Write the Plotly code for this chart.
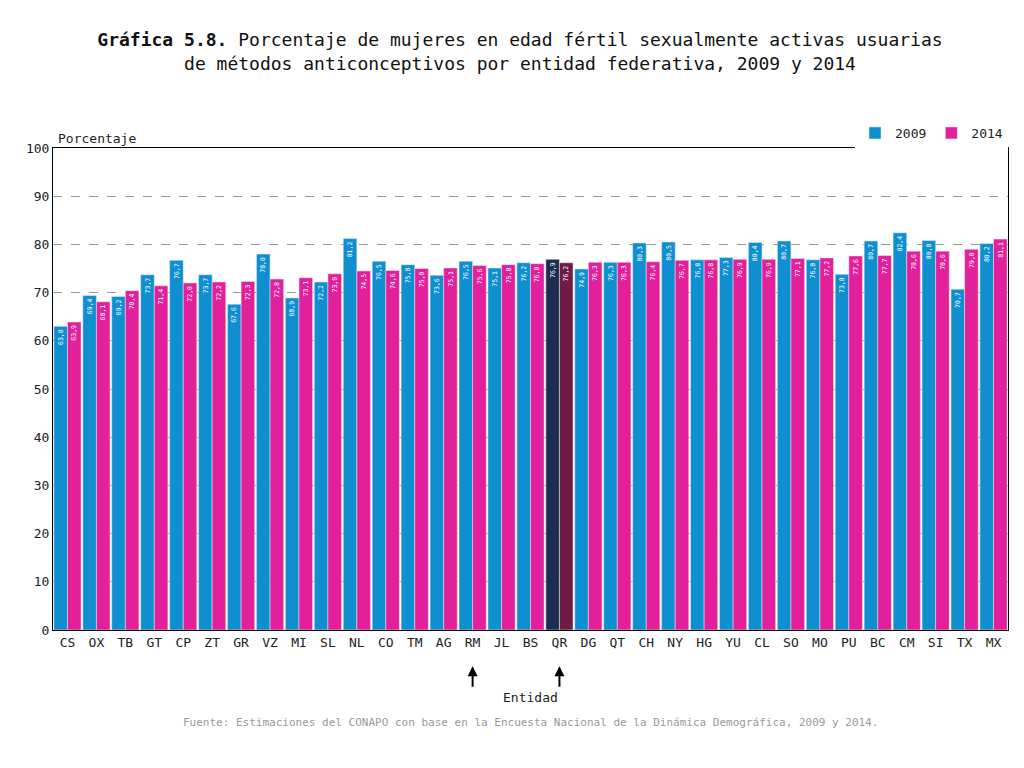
import plotly.graph_objects as go

entidades = ['CS','OX','TB','GT','CP','ZT','GR','VZ','MI','SL','NL','CO','TM','AG','RM','JL','BS',
             'QR','DG','QT','CH','NY','HG','YU','CL','SO','MO','PU','BC','CM','SI','TX','MX']
v2009 = [63.0,69.4,69.2,73.7,76.7,73.7,67.6,78.0,68.9,72.2,81.2,76.5,75.8,73.6,76.5,75.1,76.2,
         76.9,74.9,76.3,80.3,80.5,76.8,77.3,80.4,80.7,76.8,73.8,80.7,82.4,80.8,70.7,80.2]
v2014 = [63.9,68.1,70.4,71.4,72.0,72.2,72.3,72.8,73.1,73.9,74.5,74.6,75.0,75.1,75.6,75.8,76.0,
         76.2,76.3,76.3,76.4,76.7,76.8,76.9,76.9,77.1,77.2,77.6,77.7,78.6,78.6,79.0,81.1]
flechas = ['RM', 'QR']

FONT = "DejaVu Sans Mono"
c09 = ['#1b2d50' if e == 'QR' else '#0f8fd0' for e in entidades]
c14 = ['#6e1c45' if e == 'QR' else '#e3209b' for e in entidades]

def fmt(v):
    return f"{v:.1f}".replace('.', ',')

fig = go.Figure()
fig.add_trace(go.Bar(x=entidades, y=v2009, name='2009', marker_color=c09,
                     text=[fmt(v) for v in v2009], textposition='inside', textangle=-90,
                     insidetextanchor='end', textfont=dict(color='white', size=12, family=FONT)))
fig.add_trace(go.Bar(x=entidades, y=v2014, name='2014', marker_color=c14,
                     text=[fmt(v) for v in v2014], textposition='inside', textangle=-90,
                     insidetextanchor='end', textfont=dict(color='white', size=12, family=FONT)))

for e in flechas:
    fig.add_annotation(x=e, y=0, yref='y', ax=0, ay=-0.1, xref='x', showarrow=True,
                       axref='pixel', ayref='pixel', text='')
for e in flechas:
    fig.add_annotation(x=e, xref='x', y=-0.075, yref='paper', text='', showarrow=True,
                       arrowhead=2, arrowsize=1, arrowwidth=2, arrowcolor='black', ax=0, ay=22)

fig.add_annotation(x=0.003, xref='paper', y=1.0, yref='paper', text='Porcentaje', showarrow=False,
                   xanchor='left', yanchor='bottom', font=dict(size=13, family=FONT, color='#222'))
fig.add_annotation(x=0.5, xref='paper', y=-0.16, yref='paper', text='Entidad', showarrow=False,
                   font=dict(size=13, family=FONT, color='#222'))
fig.add_annotation(x=0.5, xref='paper', y=-0.21, yref='paper', showarrow=False,
                   text='Fuente: Estimaciones del CONAPO con base en la Encuesta Nacional de la Dinámica Demográfica, 2009 y 2014.',
                   font=dict(size=11, family=FONT, color='#999'))

fig.update_layout(
    width=1024, height=768, plot_bgcolor='white', paper_bgcolor='white',
    barmode='group', bargap=0.06, bargroupgap=0,
    font=dict(family=FONT, color='#222', size=13),
    title=dict(text='<b>Gráfica 5.8.</b> Porcentaje de mujeres en edad fértil sexualmente activas usuarias<br>de métodos anticonceptivos por entidad federativa, 2009 y 2014',
               x=0.5, y=0.95, xanchor='center', font=dict(size=18, family=FONT, color='#111')),
    margin=dict(l=45, r=24, t=140, b=146),
    showlegend=True,
    legend=dict(orientation='h', x=1, xanchor='right', y=1.0, yanchor='bottom',
                font=dict(size=13, family=FONT), itemwidth=30, traceorder='normal'),
    xaxis=dict(showline=True, linecolor='black', mirror=True, ticks='', tickfont=dict(size=13)),
    yaxis=dict(range=[0, 100], dtick=10, showline=True, linecolor='black', mirror=True,
               gridcolor='#999', griddash='dash', zeroline=False, tickfont=dict(size=13)),
)
fig.write_html("out.html")
